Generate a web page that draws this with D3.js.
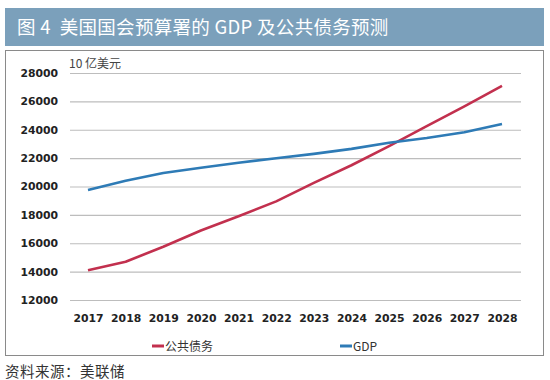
<!DOCTYPE html>
<html><head><meta charset="utf-8">
<script src="https://cdn.jsdelivr.net/npm/d3@7"></script>
<style>body{margin:0;background:#fff}svg{display:block}</style>
</head><body><svg id="c" width="550" height="380"></svg>
<script>
const years = ["2017","2018","2019","2020","2021","2022","2023","2024","2025","2026","2027","2028"];
const debt = [14100,14700,15750,16900,17900,18950,20250,21500,22850,24250,25650,27100];
const gdp = [19750,20400,20950,21320,21680,21990,22300,22650,23080,23420,23830,24400];
const yTicks = [12000,14000,16000,18000,20000,22000,24000,26000,28000];
const seriesNames = ["公共债务","GDP"];
const titleText = "图 4  美国国会预算署的 GDP 及公共债务预测";
const unitText = "10 亿美元";
const sourceText = "资料来源：美联储";

const svg = d3.select("#c");
const cjk = "'Noto Sans CJK SC','Noto Sans',sans-serif";
const colors = ["#c2304e","#2e7bb6"];

svg.append("rect").attr("x",5).attr("y",8).attr("width",539).attr("height",38).attr("fill","#7ba0bb");
svg.append("text").attr("x",17).attr("y",34).attr("fill","#fff").style("font-family",cjk).style("font-size","18.5px").style("white-space","pre").style("letter-spacing","0.3px").text(titleText);

svg.append("rect").attr("x",5.5).attr("y",50.5).attr("width",538).attr("height",305).attr("fill","#fff").attr("stroke","#8a8a8a").attr("stroke-width",1);

const x = d3.scalePoint().domain(years).range([88,502]);
const y = d3.scaleLinear().domain([12000,28000]).range([300,73]);

const grid = svg.append("g").attr("transform","translate(70,0)")
  .call(d3.axisLeft(y).tickValues(yTicks).tickSize(-451).tickFormat(""));
grid.select(".domain").remove();
grid.selectAll(".tick line").attr("stroke","#bdbdbd").attr("stroke-width",1.2);

const yAx = svg.append("g").attr("transform","translate(70,0)")
  .call(d3.axisLeft(y).tickValues(yTicks).tickSize(0).tickPadding(12).tickFormat(d3.format("d")));
yAx.select(".domain").remove();
yAx.selectAll("text").attr("fill","#222").style("font-family","'DejaVu Sans',sans-serif").style("font-size","10.8px").style("font-weight","bold");

const xAx = svg.append("g").attr("transform","translate(0,305)")
  .call(d3.axisBottom(x).tickSize(0).tickPadding(9));
xAx.select(".domain").remove();
xAx.selectAll("text").attr("fill","#222").style("font-family","'DejaVu Sans',sans-serif").style("font-size","10.8px").style("font-weight","bold");

svg.append("text").attr("x",69).attr("y",68).attr("fill","#444").style("font-family",cjk).style("font-size","12px").text(unitText);

const line = d3.line().x((d,i)=>x(years[i])).y(d=>y(d));
[debt,gdp].forEach((s,k)=>{
  svg.append("path").datum(s).attr("d",line).attr("fill","none").attr("stroke",colors[k]).attr("stroke-width",2.6).attr("stroke-linejoin","round");
});

const legX = [152,340];
seriesNames.forEach((n,k)=>{
  svg.append("line").attr("x1",legX[k]).attr("x2",legX[k]+12).attr("y1",346).attr("y2",346).attr("stroke",colors[k]).attr("stroke-width",3);
  svg.append("text").attr("x",legX[k]+13).attr("y",351).attr("fill","#333").style("font-family",cjk).style("font-size","12px").text(n);
});

svg.append("text").attr("x",5).attr("y",377).attr("fill","#333").style("font-family",cjk).style("font-size","14.5px").style("letter-spacing","0.5px").text(sourceText);
</script></body></html>
